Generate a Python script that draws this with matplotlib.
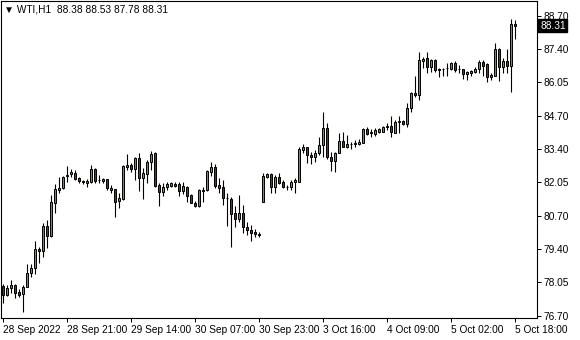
import numpy as np
import matplotlib.pyplot as plt
from matplotlib.transforms import blended_transform_factory

# WTI H1 candles (open, high, low, close)
opens = [77.90, 77.53, 77.81, 77.93, 77.65, 77.57, 77.87, 78.41, 78.61, 79.38,
         79.29, 80.29, 79.89, 81.23, 81.75, 81.81, 82.29, 82.37, 82.41, 82.21,
         82.11, 82.03, 82.05, 82.57, 82.14, 82.10, 82.17, 81.74, 81.77, 81.31,
         81.38, 82.67, 82.74, 82.57, 83.01, 82.22, 82.38, 82.85, 83.22, 81.93,
         81.67, 81.87, 81.91, 81.99, 81.99, 81.71, 81.87, 81.54, 81.23, 81.10,
         81.74, 81.74, 82.47, 82.65, 81.94, 81.85, 81.42, 81.37, 80.81, 80.57,
         80.81, 80.27, 80.14, 80.05, 79.98, 81.27, 82.27, 82.37, 81.87, 82.25,
         82.05, 81.85, 81.85, 82.05, 82.07, 83.34, 83.45, 83.14, 83.07, 83.23,
         83.54, 84.21, 83.07, 82.91, 83.23, 83.69, 83.47, 83.57, 83.57, 83.57,
         83.63, 84.17, 84.01, 83.97, 84.07, 84.07, 84.25, 84.30, 84.01, 84.45,
         84.50, 84.38, 85.01, 85.61, 85.54, 86.92, 87.01, 86.65, 86.94, 86.58,
         86.57, 86.61, 86.57, 86.81, 86.57, 86.57, 86.37, 86.44, 86.47, 86.58,
         86.85, 86.78, 86.25, 86.30, 87.37, 86.67, 86.90, 86.71, 88.38]
highs = [77.97, 77.94, 78.14, 77.97, 77.77, 77.94, 78.78, 78.77, 79.70, 79.47,
         80.43, 80.54, 81.53, 81.99, 82.25, 82.31, 82.69, 82.57, 82.54, 82.27,
         82.14, 82.18, 82.74, 82.61, 82.34, 82.22, 82.19, 81.95, 81.79, 81.63,
         82.75, 83.17, 82.81, 83.07, 83.21, 82.61, 82.94, 83.30, 83.25, 82.01,
         82.01, 82.07, 82.07, 82.07, 82.05, 82.05, 81.91, 81.57, 81.30, 81.77,
         81.87, 82.54, 82.85, 82.77, 82.23, 82.14, 81.61, 81.45, 81.11, 81.54,
         81.14, 80.45, 80.34, 80.18, 80.07, 82.41, 82.43, 82.41, 82.34, 82.41,
         82.14, 81.94, 82.14, 82.21, 83.47, 83.57, 83.47, 83.27, 83.34, 83.87,
         84.85, 84.41, 83.27, 83.27, 84.01, 84.05, 83.94, 83.67, 83.74, 83.77,
         84.21, 84.25, 84.17, 84.21, 84.21, 84.30, 84.41, 84.71, 84.54, 84.71,
         84.54, 85.21, 85.67, 86.30, 87.25, 87.07, 87.25, 86.98, 86.98, 86.61,
         86.61, 86.81, 86.85, 86.91, 86.74, 86.57, 86.50, 86.54, 86.65, 86.94,
         86.94, 86.81, 86.43, 87.63, 87.41, 87.01, 87.37, 88.57, 88.53]
lows = [77.23, 77.50, 77.63, 77.41, 77.47, 76.87, 77.87, 78.27, 78.37, 78.81,
        79.07, 79.43, 79.87, 80.81, 81.61, 81.78, 82.07, 82.27, 82.14, 82.01,
        81.98, 81.85, 82.01, 82.01, 82.01, 82.03, 81.74, 81.61, 80.67, 81.01,
        81.34, 82.54, 82.46, 82.14, 81.71, 81.37, 82.01, 82.54, 81.87, 81.11,
        81.51, 81.74, 81.87, 81.87, 81.51, 81.57, 81.25, 81.21, 81.07, 81.07,
        81.25, 81.70, 82.31, 81.81, 81.61, 81.14, 80.31, 79.45, 80.25, 80.45,
        80.03, 79.94, 79.71, 79.87, 79.87, 81.27, 82.21, 81.61, 81.61, 81.98,
        81.81, 81.74, 81.74, 81.63, 82.07, 83.21, 82.81, 82.78, 82.85, 83.14,
        83.07, 82.97, 82.51, 82.47, 83.21, 83.47, 83.41, 83.37, 83.47, 83.54,
        83.63, 83.94, 83.87, 83.90, 84.03, 84.05, 84.14, 83.87, 84.01, 84.01,
        84.34, 84.25, 84.87, 85.45, 85.34, 86.61, 86.41, 86.47, 86.45, 86.27,
        86.31, 86.31, 86.54, 86.45, 86.41, 86.18, 86.14, 86.31, 86.41, 86.41,
        86.31, 86.07, 86.14, 86.30, 86.11, 86.41, 86.41, 85.67, 87.78]
closes = [77.53, 77.82, 77.93, 77.63, 77.54, 77.86, 78.41, 78.61, 79.37, 79.29,
          80.29, 79.91, 81.25, 81.77, 81.82, 82.25, 82.35, 82.46, 82.17, 82.11,
          82.05, 82.10, 82.57, 82.11, 82.13, 82.18, 81.81, 81.83, 81.25, 81.42,
          82.70, 82.75, 82.57, 83.03, 82.21, 82.41, 82.85, 83.17, 81.91, 81.65,
          81.87, 81.97, 82.01, 81.91, 81.71, 81.90, 81.50, 81.21, 81.11, 81.74,
          81.72, 82.50, 82.65, 81.91, 81.81, 81.41, 81.41, 80.77, 80.57, 80.81,
          80.27, 80.14, 80.03, 79.98, 79.94, 82.30, 82.37, 81.87, 82.27, 82.01,
          81.85, 81.85, 82.07, 82.14, 83.37, 83.45, 83.14, 83.07, 83.23, 83.54,
          84.21, 83.07, 82.91, 83.23, 83.69, 83.47, 83.58, 83.57, 83.61, 83.67,
          84.17, 83.97, 84.07, 84.14, 84.17, 84.25, 84.30, 84.05, 84.45, 84.51,
          84.38, 85.01, 85.61, 85.55, 86.94, 86.98, 86.65, 86.94, 86.54, 86.54,
          86.57, 86.61, 86.81, 86.54, 86.57, 86.37, 86.47, 86.50, 86.58, 86.85,
          86.71, 86.25, 86.34, 87.37, 86.67, 86.90, 86.71, 88.37, 88.31]

date_labels = ["28 Sep 2022", "28 Sep 21:00", "29 Sep 14:00", "30 Sep 07:00",
               "30 Sep 23:00", "3 Oct 16:00", "4 Oct 09:00", "5 Oct 02:00",
               "5 Oct 18:00"]
price_ticks = [88.70, 87.40, 86.05, 84.70, 83.40, 82.05, 80.70, 79.40, 78.05, 76.70]
last_price = 88.31
header = "\u25bc WTI,H1  88.38 88.53 87.78 88.31"

plt.rcParams['font.family'] = ['Liberation Sans', 'DejaVu Sans']

o = np.array(opens)
h = np.array(highs)
l = np.array(lows)
c = np.array(closes)
x = np.arange(len(o))

fig = plt.figure(figsize=(5.8, 3.4), dpi=100)
ax = fig.add_axes([0.0017, 0.0647, 0.924, 0.9323])

ax.vlines(x, l, h, color='black', lw=0.8, zorder=2)
cols = np.where(c >= o, '#2EB82E', '#E00000')
ax.bar(x, np.abs(c - o), width=0.5, bottom=np.minimum(o, c), color=cols,
       edgecolor='black', linewidth=0.7, zorder=3)

ax.set_xlim(-0.43, 133.6)
ax.set_ylim(76.62, 89.30)

ax.yaxis.tick_right()
ax.set_yticks(price_ticks)
ax.set_yticklabels(["%.2f" % v for v in price_ticks])
ax.tick_params(axis='y', direction='out', length=3, width=0.7, pad=2, labelsize=7.3)

ax.set_xticks(np.arange(0, len(o), 16)[:len(date_labels)])
ax.set_xticklabels(date_labels, ha='left')
ax.tick_params(axis='x', direction='out', length=3, width=0.7, pad=2, labelsize=7.3)

for s in ax.spines.values():
    s.set_linewidth(0.8)

ax.text(0.006, 0.99, header, transform=ax.transAxes, va='top', ha='left', fontsize=7.3)

tr = blended_transform_factory(ax.transAxes, ax.transData)
ax.text(1.006, last_price, "88.31", transform=tr, va='center', ha='left',
        color='white', fontsize=7.3, clip_on=False,
        bbox=dict(facecolor='black', edgecolor='black', pad=1.2))

fig.savefig("out.png", dpi=100)
